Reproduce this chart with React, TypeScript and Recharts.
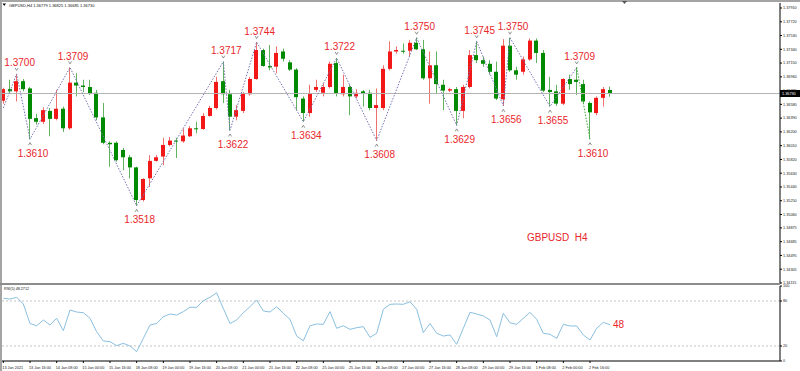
import React from 'react';
import { ComposedChart, Bar, Line, XAxis, YAxis, ReferenceLine } from 'recharts';

// GBPUSD H4, 13 Jan 2021 - 3 Feb 2021
const opens = [
  1.3663, 1.3679, 1.3676, 1.369, 1.368, 1.3639, 1.3634, 1.3649, 1.3638, 1.3652,
  1.3625, 1.3688, 1.3684, 1.3682, 1.3674, 1.364, 1.3605, 1.3605, 1.3595, 1.3585,
  1.3571, 1.3526, 1.3556, 1.358, 1.3586, 1.3602, 1.3608, 1.3607, 1.3614, 1.3625,
  1.3624, 1.3642, 1.3653, 1.369, 1.3672, 1.3641, 1.3649, 1.3672, 1.3693, 1.3733,
  1.3711, 1.371, 1.3731, 1.3716, 1.3706, 1.3666, 1.3646, 1.3678, 1.3674, 1.3682,
  1.3715, 1.3672, 1.3682, 1.3669, 1.3676, 1.3674, 1.3653, 1.3653, 1.3707, 1.3731,
  1.3732, 1.3732, 1.3743, 1.3734, 1.3694, 1.3712, 1.3685, 1.3677, 1.3679, 1.3649,
  1.3682, 1.3726, 1.3719, 1.3714, 1.3703, 1.3665, 1.3739, 1.3705, 1.3703, 1.372,
  1.3746, 1.3729, 1.3678, 1.3676, 1.3659, 1.3693, 1.3692, 1.3686, 1.366, 1.3646,
  1.3667, 1.36779,
];
const highs = [
  1.3681, 1.3692, 1.37, 1.3693, 1.3682, 1.3645, 1.3654, 1.3653, 1.3678, 1.3655,
  1.3709, 1.3701, 1.3692, 1.3692, 1.3678, 1.366, 1.3607, 1.3607, 1.3598, 1.3588,
  1.3572, 1.3556, 1.3588, 1.3588, 1.3612, 1.3613, 1.3612, 1.3625, 1.3628, 1.3634,
  1.3646, 1.3656, 1.3696, 1.3717, 1.3678, 1.3657, 1.3675, 1.3696, 1.3744, 1.3735,
  1.374, 1.3738, 1.3735, 1.3719, 1.3708, 1.3669, 1.3685, 1.3692, 1.3687, 1.3717,
  1.3722, 1.3699, 1.3685, 1.3679, 1.3678, 1.3678, 1.368, 1.3712, 1.3745, 1.3738,
  1.3742, 1.3747, 1.375, 1.3747, 1.3731, 1.3731, 1.3692, 1.3681, 1.3682, 1.3685,
  1.3733, 1.3745, 1.3724, 1.3719, 1.3717, 1.3748, 1.375, 1.371, 1.3724, 1.3749,
  1.3749, 1.3733, 1.3696, 1.3685, 1.3694, 1.3699, 1.3709, 1.3692, 1.3662, 1.3669,
  1.3682, 1.36825,
];
const lows = [
  1.3659, 1.3674, 1.3662, 1.3676, 1.361, 1.363, 1.3631, 1.3614, 1.3636, 1.362,
  1.3623, 1.3669, 1.3675, 1.3671, 1.3636, 1.3603, 1.3572, 1.3579, 1.3567, 1.3556,
  1.3518, 1.3524, 1.3544, 1.3579, 1.3574, 1.36, 1.3584, 1.3605, 1.3613, 1.3618,
  1.3623, 1.3641, 1.3651, 1.366, 1.3622, 1.3636, 1.3646, 1.367, 1.3692, 1.371,
  1.3705, 1.3701, 1.3717, 1.3704, 1.365, 1.3634, 1.3641, 1.3675, 1.3669, 1.368,
  1.3669, 1.3669, 1.3643, 1.3666, 1.3655, 1.365, 1.3608, 1.365, 1.3705, 1.3728,
  1.3728, 1.3724, 1.3733, 1.3692, 1.3659, 1.3673, 1.365, 1.3675, 1.3629, 1.3639,
  1.368, 1.3715, 1.371, 1.3699, 1.3664, 1.3656, 1.3703, 1.3692, 1.3699, 1.3718,
  1.3715, 1.3675, 1.3655, 1.3656, 1.3657, 1.3678, 1.3671, 1.3659, 1.361, 1.3643,
  1.3655, 1.36685,
];
const closes = [
  1.3679, 1.3676, 1.369, 1.3679, 1.3638, 1.3634, 1.365, 1.3638, 1.3652, 1.3625,
  1.3688, 1.3684, 1.3682, 1.3673, 1.364, 1.3605, 1.3603, 1.3581, 1.3585, 1.3571,
  1.3526, 1.3555, 1.358, 1.3585, 1.3602, 1.3608, 1.3607, 1.3615, 1.3625, 1.3624,
  1.3642, 1.3653, 1.3689, 1.3672, 1.3641, 1.365, 1.3673, 1.3693, 1.3733, 1.3711,
  1.3709, 1.3729, 1.3721, 1.3706, 1.3668, 1.3646, 1.3673, 1.3682, 1.3682, 1.3714,
  1.3673, 1.3682, 1.3669, 1.3674, 1.3673, 1.3653, 1.3657, 1.3707, 1.3731, 1.3733,
  1.3731, 1.3743, 1.3734, 1.3694, 1.3712, 1.3686, 1.3677, 1.3679, 1.3649, 1.3682,
  1.3726, 1.3719, 1.3714, 1.3703, 1.3666, 1.3739, 1.3705, 1.3699, 1.372, 1.3746,
  1.3729, 1.3677, 1.3675, 1.3659, 1.3693, 1.3686, 1.3689, 1.3662, 1.3647, 1.3667,
  1.3679, 1.3673,
];

const rsiValues = [
  83.6, 82.6, 84.9, 76, 50, 47, 54.7, 48, 57, 40.4,
  68, 65.3, 64.4, 57, 39, 26.7, 25.8, 20.4, 23.6, 20,
  12.4, 30.2, 48, 50, 59, 62.7, 61.3, 65.8, 71.6, 71.6,
  80.4, 84.9, 91, 70, 50, 54.7, 64.4, 72.4, 81.3, 66.7,
  65.3, 72.4, 63.6, 55.6, 33.3, 27, 47, 49.3, 48.9, 65.8,
  43.6, 47, 42.2, 44.4, 45.8, 31.6, 36.9, 68.9, 75.6, 76,
  75.6, 79, 69, 37.8, 50, 37, 33.3, 34.7, 22.2, 43.6,
  64.9, 62.7, 60, 54.7, 32.4, 63.6, 51, 48.9, 56.9, 64.9,
  55.6, 36.9, 35.6, 30.2, 48.9, 46.7, 46.7, 34.7, 28, 43.6,
  51.6, 48.27,
];

// zigzag swing points (bar index, price)
const zigzagBars = [0, 2, 4, 10, 20, 33, 34, 38, 45, 50, 56, 62, 68, 71, 75, 76, 82, 86, 88];
const zigzagPrices = [
  1.3653, 1.37, 1.361, 1.3709, 1.3518, 1.3717, 1.3622, 1.3744, 1.3634, 1.3722,
  1.3608, 1.375, 1.3629, 1.3745, 1.3656, 1.375, 1.3655, 1.3709, 1.361,
];

const priceTicks = [
  1.3791, 1.3772, 1.3753, 1.3734, 1.3715, 1.3696, 1.3677, 1.3658, 1.3639, 1.362,
  1.3601, 1.3582, 1.3563, 1.3544, 1.3525, 1.3506, 1.34875, 1.34685, 1.34495, 1.34305,
  1.34115,
];
const rsiTicks = [0, 20, 80, 100];
const timeLabels = [
  '13 Jan 2021', '13 Jan 16:00', '14 Jan 08:00', '15 Jan 00:00', '15 Jan 16:00',
  '18 Jan 08:00', '19 Jan 00:00', '19 Jan 16:00', '20 Jan 08:00', '21 Jan 00:00',
  '21 Jan 16:00', '22 Jan 08:00', '25 Jan 00:00', '25 Jan 16:00', '26 Jan 08:00',
  '27 Jan 00:00', '27 Jan 16:00', '28 Jan 08:00', '29 Jan 00:00', '29 Jan 16:00',
  '1 Feb 08:00', '2 Feb 00:00', '2 Feb 16:00',
];

const SLOTS = 117; // visible bar slots incl. empty space on the right
const lastLeg = zigzagBars.length - 2;

const rows = Array.from({ length: SLOTS }, (_, i) => {
  const has = i < opens.length;
  const z = zigzagBars.indexOf(i);
  return {
    i,
    o: has ? opens[i] : null,
    h: has ? highs[i] : null,
    l: has ? lows[i] : null,
    c: has ? closes[i] : null,
    range: has ? [lows[i], highs[i]] : null,
    rsi: has ? rsiValues[i] : null,
    zz: z >= 0 && z <= lastLeg ? zigzagPrices[z] : null,
    zzLive: z >= lastLeg ? zigzagPrices[z] : null,
    pivot: z >= 0 ? zigzagPrices[z] : null,
  };
});

const tickBars = timeLabels.map((_, k) => k * 4);
const lastClose = closes[closes.length - 1];

const UP = '#f21818';
const DOWN = '#008a00';
const LABEL_RED = '#e8262b';
const FONT = '"Liberation Sans", Arial, sans-serif';

function Candle(props: any) {
  const { x, y, width, height, payload } = props;
  if (!payload || payload.o == null || y == null) return null;
  const { o, h, l, c } = payload;
  const top = Math.min(y, y + height);
  const bottom = Math.max(y, y + height);
  const span = h - l || 1e-9;
  const toY = (p: number) => top + ((h - p) / span) * (bottom - top);
  const up = c >= o;
  const bTop = toY(Math.max(o, c));
  const bBot = toY(Math.min(o, c));
  const bx = Math.round(x);
  const wx = Math.round(x + width / 2 - 0.5);
  return (
    <g>
      <rect x={wx} y={top} width={1} height={bottom - top} fill={up ? '#f07070' : '#5fb35f'} />
      <rect x={bx} y={bTop} width={Math.round(width)} height={Math.max(1, bBot - bTop)} fill={up ? UP : DOWN} />
    </g>
  );
}

function Pivot(props: any) {
  const { cx, cy, payload } = props;
  if (cx == null || cy == null || !payload || payload.pivot == null) return <g key={`p-${props.index}`} />;
  const isHigh = Math.abs(payload.pivot - payload.h) < 1e-9;
  const isLow = Math.abs(payload.pivot - payload.l) < 1e-9;
  if (!isHigh && !isLow) return <g key={`p-${props.index}`} />;
  const d = isHigh
    ? `M${cx - 1.5},${cy - 6} L${cx},${cy - 3.5} L${cx + 1.5},${cy - 6}`
    : `M${cx - 1.5},${cy + 6} L${cx},${cy + 3.5} L${cx + 1.5},${cy + 6}`;
  return (
    <g key={`p-${props.index}`}>
      <path d={d} stroke="#777" strokeWidth={0.8} fill="none" />
      <text
        x={cx + 3}
        y={isHigh ? cy - 11 : cy + 14}
        textAnchor="middle"
        dominantBaseline="central"
        fontSize={10}
        fontFamily={FONT}
        fill={LABEL_RED}
      >
        {payload.pivot.toFixed(4)}
      </text>
    </g>
  );
}

function PriceTag(props: any) {
  const vb = props.viewBox || {};
  const x = (vb.x || 0) + (vb.width || 0);
  const y = vb.y || 0;
  return (
    <g>
      <rect x={x} y={y - 3.5} width={20} height={7} fill="#000" />
      <text x={x + 2} y={y} dominantBaseline="central" fontSize={3.8} fontFamily={FONT} fill="#fff">
        {lastClose.toFixed(5)}
      </text>
    </g>
  );
}

function TimeTick(props: any) {
  const { x, y, payload } = props;
  const label = timeLabels[payload.value / 4];
  return (
    <text x={x - 1} y={y + 4} fontSize={3.8} fontFamily={FONT} fill="#222" textAnchor="start">
      {label}
    </text>
  );
}

function RsiDot(props: any) {
  const { cx, cy, index } = props;
  if (index !== rsiValues.length - 1 || cx == null) return <g key={`r-${index}`} />;
  return (
    <text key={`r-${index}`} x={cx + 3} y={cy} dominantBaseline="central" fontSize={10} fontFamily={FONT} fill={LABEL_RED}>
      {Math.round(rsiValues[index])}
    </text>
  );
}

export default function App() {
  return (
    <div style={{ position: 'absolute', left: 0, top: 0, width: 800, height: 371, background: '#fff', overflow: 'hidden', fontFamily: FONT }}>
      <div style={{ position: 'absolute', left: 0, top: 0 }}>
        <ComposedChart width={800} height={285} data={rows} margin={{ top: 3, right: 0, bottom: 1, left: 0 }}>
          <XAxis dataKey="i" type="category" scale="band" hide />
          <YAxis
            orientation="right"
            width={20}
            type="number"
            domain={[1.34101, 1.37979]}
            allowDataOverflow
            ticks={priceTicks}
            interval={0}
            tickFormatter={(v: number) => v.toFixed(5)}
            tick={{ fontSize: 3.8, fill: '#222', fontFamily: FONT }}
            tickSize={2}
            tickMargin={1}
            axisLine={{ stroke: '#000' }}
            tickLine={{ stroke: '#000' }}
          />
          <ReferenceLine y={lastClose} stroke="#b4b4b4" strokeWidth={1} label={<PriceTag />} />
          <Bar dataKey="range" barSize={4} shape={<Candle />} isAnimationActive={false} />
          <Line dataKey="zz" connectNulls stroke="#7474b4" strokeWidth={1} strokeDasharray="1.5 1.5" dot={false} isAnimationActive={false} />
          <Line dataKey="zzLive" connectNulls stroke="#3aa83a" strokeWidth={1} strokeDasharray="1.5 1.5" dot={false} isAnimationActive={false} />
          <Line dataKey="pivot" stroke="none" dot={Pivot} activeDot={false} isAnimationActive={false} />
        </ComposedChart>
      </div>

      <div style={{ position: 'absolute', left: 0, top: 284 }}>
        <ComposedChart width={800} height={87} data={rows} margin={{ top: 2, right: 0, bottom: 0, left: 0 }}>
          <XAxis
            dataKey="i"
            type="category"
            scale="band"
            ticks={tickBars}
            interval={0}
            height={10}
            tick={<TimeTick />}
            tickSize={2}
            axisLine={{ stroke: '#000' }}
            tickLine={{ stroke: '#000' }}
          />
          <YAxis
            orientation="right"
            width={20}
            type="number"
            domain={[0, 100]}
            ticks={rsiTicks}
            interval={0}
            tick={{ fontSize: 3.8, fill: '#222', fontFamily: FONT }}
            tickSize={2}
            tickMargin={1}
            axisLine={{ stroke: '#000' }}
            tickLine={{ stroke: '#000' }}
          />
          <ReferenceLine y={80} stroke="#c4c4c4" strokeDasharray="2 2" />
          <ReferenceLine y={20} stroke="#c4c4c4" strokeDasharray="2 2" />
          <Line dataKey="rsi" stroke="#8bbfe0" strokeWidth={1} dot={RsiDot} activeDot={false} isAnimationActive={false} />
        </ComposedChart>
      </div>

      <svg width={800} height={371} style={{ position: 'absolute', left: 0, top: 0, pointerEvents: 'none' }}>
        <rect x={0} y={0} width={800} height={2} fill="#a4a4a4" />
        <rect x={0} y={0} width={2} height={371} fill="#a4a4a4" />
        <rect x={0} y={283} width={780} height={2} fill="#8c8c8c" />
        <path d="M622,1 L627,1 L624.5,4 Z" fill="#555" />
        <path d="M2.5,3.5 L6,3.5 L4.25,6 Z" fill="#000" />
        <text x={9} y={5} dominantBaseline="central" fontSize={4} fontFamily={FONT} fill="#111">
          GBPUSD,H4  1.36779 1.36825 1.36685 1.36730
        </text>
        <text x={4} y={289} dominantBaseline="central" fontSize={3.7} fontFamily={FONT} fill="#111">
          RSI(5) 48.2712
        </text>
        <text x={527} y={237} dominantBaseline="central" fontSize={10} fontFamily={FONT} fill={LABEL_RED} style={{ whiteSpace: 'pre' }}>
          {'GBPUSD  H4'}
        </text>
      </svg>
    </div>
  );
}
